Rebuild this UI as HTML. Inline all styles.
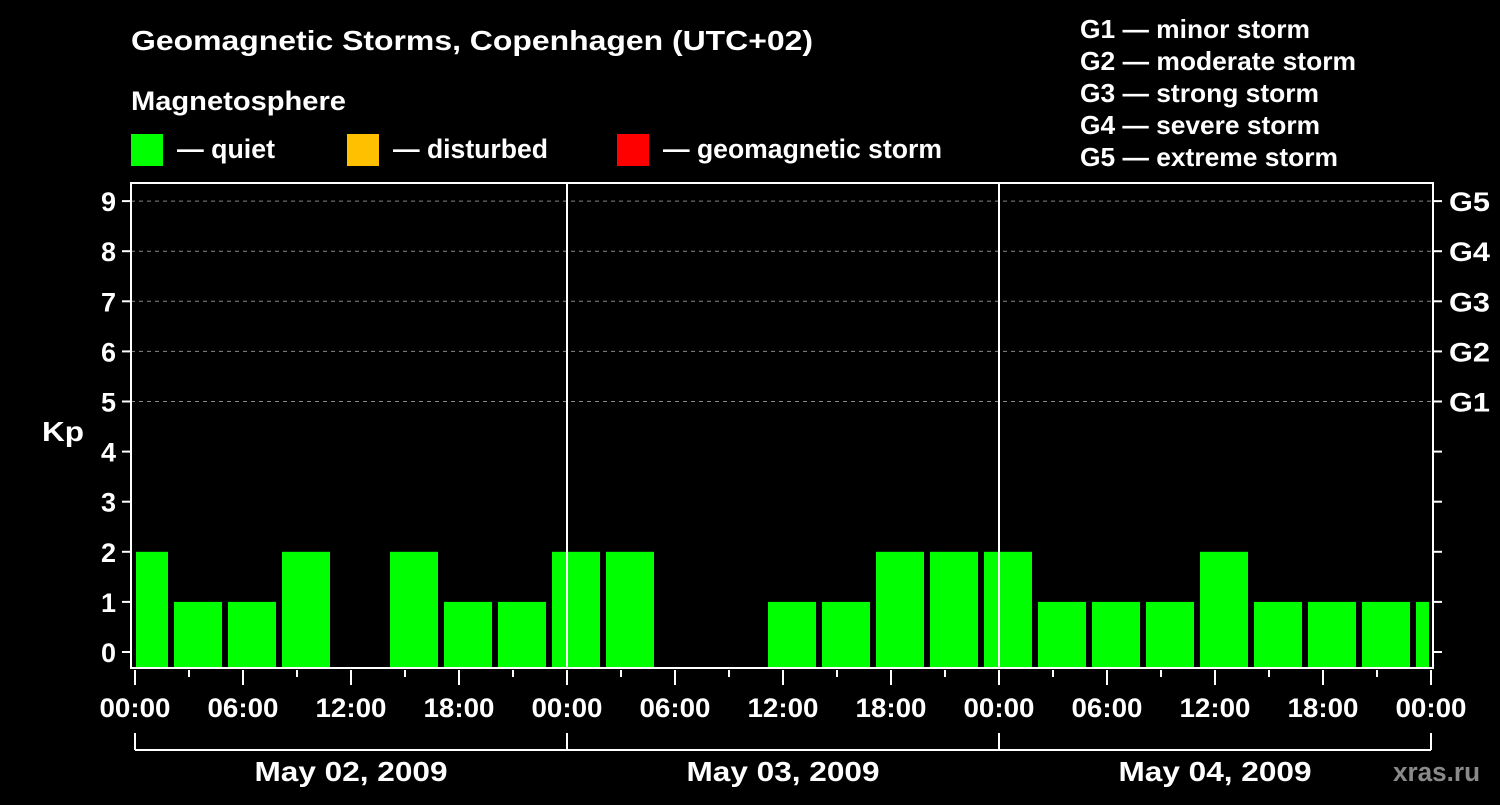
<!DOCTYPE html>
<html><head><meta charset="utf-8"><style>
body{margin:0;background:#000;width:1500px;height:800px;overflow:hidden}
svg text{font-family:"Liberation Sans",sans-serif;font-weight:bold;fill:#fff}
</style></head><body>
<svg id="c" width="1500" height="800">
<text x="131" y="50" font-size="28" textLength="682" lengthAdjust="spacingAndGlyphs">Geomagnetic Storms, Copenhagen (UTC+02)</text>
<text x="131" y="110" font-size="27" textLength="215" lengthAdjust="spacingAndGlyphs">Magnetosphere</text>
<rect x="131" y="134" width="32" height="32" fill="#00ff00"/>
<text x="177" y="158" font-size="27" textLength="98" lengthAdjust="spacingAndGlyphs">— quiet</text>
<rect x="347" y="134" width="32" height="32" fill="#ffc000"/>
<text x="393" y="158" font-size="27" textLength="155" lengthAdjust="spacingAndGlyphs">— disturbed</text>
<rect x="617" y="134" width="32" height="32" fill="#ff0000"/>
<text x="663" y="158" font-size="27" textLength="279" lengthAdjust="spacingAndGlyphs">— geomagnetic storm</text>
<g font-size="26">
<text x="1080" y="38" textLength="230" lengthAdjust="spacingAndGlyphs">G1 — minor storm</text>
<text x="1080" y="70" textLength="276" lengthAdjust="spacingAndGlyphs">G2 — moderate storm</text>
<text x="1080" y="102" textLength="239" lengthAdjust="spacingAndGlyphs">G3 — strong storm</text>
<text x="1080" y="134" textLength="240" lengthAdjust="spacingAndGlyphs">G4 — severe storm</text>
<text x="1080" y="166" textLength="258" lengthAdjust="spacingAndGlyphs">G5 — extreme storm</text>
</g>
<text x="42" y="441" font-size="28" textLength="42" lengthAdjust="spacingAndGlyphs">Kp</text>
<text x="1393" y="781" font-size="27" textLength="87" lengthAdjust="spacingAndGlyphs" style="fill:#8a8a8a">xras.ru</text>
<g id="g"></g>
</svg>
<script>
const kpValues=[2,1,1,2,0,2,1,1,2,2,0,0,1,1,2,2,2,1,1,1,2,1,1,1,1];
const dayLabels=["May 02, 2009","May 03, 2009","May 04, 2009"];
const hourLabels=["00:00","06:00","12:00","18:00"];
const stormLabels=["G1","G2","G3","G4","G5"];
const utcOffset=2;
const NS="http://www.w3.org/2000/svg";
const g=document.getElementById('g');
const X0=135,PXH=18,L=131,R=1433,T=183,B=668;
const xs=h=>X0+h*PXH;
const ys=v=>652-v*50.1;
function mk(t,a){const e=document.createElementNS(NS,t);for(const k in a)e.setAttribute(k,a[k]);g.appendChild(e);return e;}
for(let v=5;v<=9;v++){const e=mk('line',{x1:L,x2:R,y1:ys(v),y2:ys(v),stroke:'#888','stroke-dasharray':'4,4','stroke-width':1});

}
kpValues.forEach((v,i)=>{if(v<=0)return;
const h0=utcOffset-3+3*i;
let x1=Math.max(xs(h0)+3,X0+1),x2=Math.min(xs(h0+3)-3,xs(72)-2);
const e=mk('rect',{x:x1,y:ys(v),width:x2-x1,height:B-ys(v),fill:v>=5?'#ff0000':v>=4?'#ffc000':'#00ff00'});

});
for(let d=1;d<3;d++){const e=mk('line',{x1:xs(24*d),x2:xs(24*d),y1:T,y2:B,stroke:'#fff','stroke-width':2});

}
const f=mk('rect',{x:L,y:T,width:R-L,height:B-T,fill:'none',stroke:'#fff','stroke-width':2});


for(let v=0;v<=9;v++){
mk('line',{x1:122,x2:L,y1:ys(v),y2:ys(v),stroke:'#fff','stroke-width':2});
mk('line',{x1:R,x2:1442,y1:ys(v),y2:ys(v),stroke:'#fff','stroke-width':2});
const t=mk('text',{x:116,y:ys(v)+10,'font-size':27,'text-anchor':'end'});t.textContent=v;

}
stormLabels.forEach((s,i)=>{const t=mk('text',{x:1449,y:ys(5+i)+10,'font-size':27,textLength:41,lengthAdjust:'spacingAndGlyphs'});t.textContent=s;

});
for(let h=0;h<=72;h+=3){const maj=h%6==0;
mk('line',{x1:xs(h),x2:xs(h),y1:B+2,y2:maj?685:677,stroke:'#fff','stroke-width':2});
if(maj){const t=mk('text',{x:xs(h)-35.5,y:717,'font-size':27,textLength:71,lengthAdjust:'spacingAndGlyphs'});t.textContent=hourLabels[(h/6)%4];

}}
mk('line',{x1:xs(0),x2:xs(72),y1:750,y2:750,stroke:'#fff','stroke-width':2});
for(let d=0;d<=3;d++)mk('line',{x1:xs(24*d),x2:xs(24*d),y1:733,y2:750,stroke:'#fff','stroke-width':2});
dayLabels.forEach((s,i)=>{const t=mk('text',{x:xs(24*i+12)-96.5,y:781,'font-size':28,textLength:193,lengthAdjust:'spacingAndGlyphs'});t.textContent=s;

});
</script>
</body></html>
